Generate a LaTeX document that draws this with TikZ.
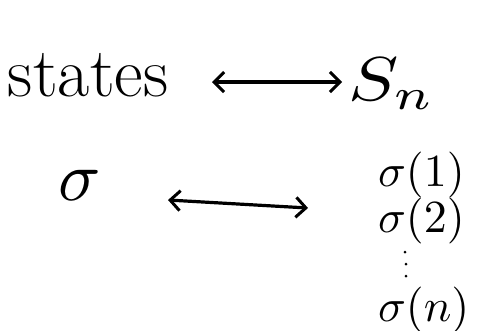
\documentclass[tikz,border=0pt]{standalone}
\usetikzlibrary{arrows.meta}
\tikzset{
  lbl/.style={inner sep=0pt, outer sep=0pt},
  biarrow/.style={{Straight Barb[length=10pt,width=20pt,line width=3pt]}-{Straight Barb[length=10pt,width=20pt,line width=3pt]}, line width=3.2pt},
  big/.style={font=\fontsize{70}{76}\selectfont},
  mathbig/.style={xscale=7.5, yscale=6.2},
  mathmid/.style={scale=4.6},
  dotmark/.style={circle, fill, inner sep=0pt, minimum size=3pt},
}
\begin{document}
\begin{tikzpicture}[x=1pt,y=-1pt]
  \useasboundingbox (0,0) rectangle (481,330);
  % top row: states <-> S_n
  \node[lbl, big, anchor=base west] (states) at (8,96) {states};
  \node[lbl, mathbig, anchor=base west] (Sn) at (348,100) {$S_n$};
  \coordinate (a1) at (212,82);
  \coordinate (a2) at (342,82);
  \draw[biarrow] (a1) -- (a2);
  % bottom row: sigma <-> its list of values
  \node[lbl, scale=7, anchor=base] (sig) at (80,200) {$\sigma$};
  \node[lbl, mathmid, anchor=base west] (s1) at (378,186) {$\sigma(1)$};
  \node[lbl, mathmid, anchor=base west] (s2) at (378,232) {$\sigma(2)$};
  \node[dotmark] (d1) at (405,252) {};
  \node[dotmark] (d2) at (406,264) {};
  \node[dotmark] (d3) at (406,276) {};
  \node[lbl, mathmid, anchor=base west] (sn) at (378,321) {$\sigma(n)$};
  \coordinate (b1) at (168,200);
  \coordinate (b2) at (308,208);
  \draw[biarrow] (b1) -- (b2);
\end{tikzpicture}
\end{document}
